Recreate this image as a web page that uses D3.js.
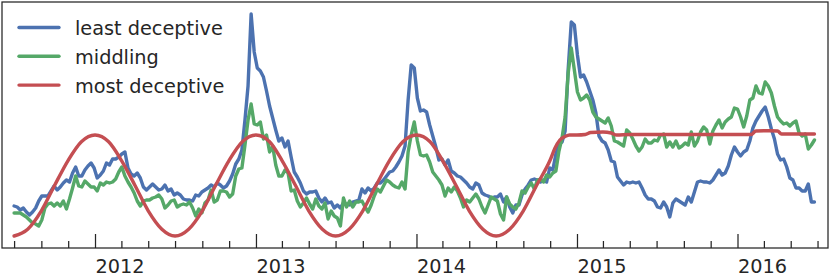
<!DOCTYPE html>
<html>
<head>
<meta charset="utf-8">
<script src="https://cdn.jsdelivr.net/npm/d3@7"></script>
<style>
  html, body { margin: 0; padding: 0; background: #ffffff; }
  svg { display: block; font-family: "DejaVu Sans", sans-serif; }
</style>
</head>
<body>
<svg id="chart" width="830" height="279"></svg>
<script>
// ---------------- DATA ----------------
const seriesNames = ["least deceptive", "middling", "most deceptive"];
const yearLabels = ["2012", "2013", "2014", "2015", "2016"];
const firstWeek = "2011-07-01"; // weekly observations start here

const leastDeceptive = [
  42,41,38,40,36,33,36,40,47,52,
  52,52,57,62,58,61,65,68,66,75,
  81,72,72,78,82,85,80,70,73,77,
  85,83,89,89,91,94,96,80,74,72,
  75,70,61,58,61,64,61,58,59,63,
  57,59,53,55,53,49,48,48,47,53,
  52,56,58,60,63,61,65,63,60,62,
  67,74,84,89,98,128,162,234,196,180,
  177,171,157,142,130,118,107,110,101,107,
  91,76,71,65,57,54,56,56,57,50,
  46,50,45,46,40,43,40,45,44,43,
  46,47,48,59,55,60,57,60,65,65,
  68,72,76,77,81,86,92,102,148,183,
  180,150,137,138,136,123,112,101,88,89,
  83,88,77,75,72,71,68,65,61,59,
  65,63,55,53,52,50,51,51,54,46,
  51,41,35,43,43,53,59,63,68,69,
  68,66,68,66,80,78,94,104,106,117,
  179,226,223,193,171,173,166,157,148,135,
  112,107,105,98,87,86,71,67,63,66,
  65,66,65,66,60,53,49,49,47,41,
  40,46,41,31,45,49,47,45,43,51,
  46,56,66,67,66,66,65,68,73,78,
  73,75,82,93,101,96,92,96,98,107,
  120,127,132,137,141,131,119,109,94,88,
  89,81,70,68,60,60,57,57,64,46,
  46
];

const middling = [
  35,35,35,33,31,28,25,24,22,28,
  40,44,45,42,45,42,47,39,49,60,
  72,62,61,67,64,61,61,57,65,63,
  66,65,66,69,76,81,72,66,61,55,
  47,42,47,48,48,50,51,53,49,40,
  43,47,48,41,43,44,43,46,40,32,
  39,35,45,48,58,46,48,57,57,56,
  51,54,72,79,80,103,128,144,124,123,
  126,109,113,96,102,83,72,72,78,75,
  57,58,47,41,45,50,44,39,49,42,
  39,45,29,37,32,30,22,50,41,47,
  41,46,46,47,41,36,43,52,59,56,
  62,68,66,63,61,60,66,59,96,113,
  126,107,93,92,93,86,76,72,68,63,
  52,60,56,61,57,50,41,48,46,50,
  54,49,41,35,43,51,49,47,34,28,
  51,44,41,39,45,57,55,61,65,59,
  68,69,66,73,71,75,77,97,110,131,
  175,200,178,156,148,150,153,148,136,131,
  129,127,125,130,122,107,106,104,102,118,
  115,109,102,97,101,109,105,105,108,107,
  113,114,101,106,101,107,100,102,105,103,
  116,102,107,116,121,118,104,117,123,128,
  120,126,129,131,140,139,131,121,132,148,
  150,162,155,154,166,162,155,142,131,127,
  124,125,122,125,127,115,112,114,99,103,
  108
];

const mostDates = [
  "2011-07-01","2011-08-01","2011-09-01","2011-10-01","2011-11-01","2011-12-01",
  "2012-01-01","2012-02-01","2012-03-01","2012-04-01","2012-05-01","2012-06-01",
  "2012-07-01","2012-08-01","2012-09-01","2012-10-01","2012-11-01","2012-12-01",
  "2013-01-01","2013-02-01","2013-03-01","2013-04-01","2013-05-01","2013-06-01",
  "2013-07-01","2013-08-01","2013-09-01","2013-10-01","2013-11-01","2013-12-01",
  "2014-01-01","2014-02-01","2014-03-01","2014-04-01","2014-05-01","2014-06-01",
  "2014-07-01","2014-08-01","2014-09-01","2014-10-01","2014-11-01","2014-11-12",
  "2014-11-23","2014-12-05","2014-12-15","2015-01-01","2015-01-20","2015-02-01",
  "2015-03-01","2015-03-20","2015-04-01","2015-05-01","2015-06-01","2015-07-01",
  "2015-08-01","2015-09-01","2015-10-01","2015-11-01","2015-12-01","2016-01-01",
  "2016-02-01","2016-02-12","2016-03-15","2016-04-01","2016-04-10","2016-05-01",
  "2016-06-01","2016-06-24"
];
const mostDeceptive = [
  12,18.8,37.2,62.5,87.7,106.2,
  113,106.2,87.7,62.5,37.2,18.8,
  12,18.8,37.2,62.5,87.7,106.2,
  113,106.2,87.7,62.5,37.2,18.8,
  12,18.8,37.2,62.5,87.7,106.2,
  113,106.2,87.7,62.5,37.2,18.8,
  12,18.8,37.2,62.5,88,100,
  108,111.5,113,113,113.5,115.5,
  116,115,113,113.5,113.5,113.5,
  113.5,113.5,113.5,113.5,113.5,113.5,
  113.5,117,117.3,117,114,114,
  114,114
];

// ---------------- CHART ----------------
const W = 830, H = 279;
const plot = { left: 2, right: 828, top: 2, bottom: 248 };
const colors = ["#4C72B0", "#55A868", "#C44E52"];
const ink = "#262626";
const lw = 3.4;

const parse = d3.timeParse("%Y-%m-%d");
const start = parse(firstWeek);
const weekDates = leastDeceptive.map((_, i) => d3.timeDay.offset(start, 7 * i));

const x = d3.scaleTime()
  .domain([new Date(2011, 5, 3, 12), new Date(2016, 6, 24, 19)])
  .range([plot.left, plot.right]);
const y = d3.scaleLinear().domain([0, 246]).range([plot.bottom, plot.top]);

const svg = d3.select("#chart");
svg.append("rect").attr("width", W).attr("height", H).attr("fill", "#fff");

const clipId = "plotclip";
svg.append("defs").append("clipPath").attr("id", clipId)
  .append("rect").attr("x", plot.left).attr("y", plot.top)
  .attr("width", plot.right - plot.left).attr("height", plot.bottom - plot.top);

const line = d3.line().x(d => x(d[0])).y(d => y(d[1])).curve(d3.curveLinear);
const smooth = d3.line().x(d => x(d[0])).y(d => y(d[1])).curve(d3.curveMonotoneX);

const g = svg.append("g").attr("clip-path", `url(#${clipId})`);
const series = [
  { data: weekDates.map((d, i) => [d, leastDeceptive[i]]), gen: line },
  { data: weekDates.map((d, i) => [d, middling[i]]), gen: line },
  { data: mostDates.map((d, i) => [parse(d), mostDeceptive[i]]), gen: smooth }
];
series.forEach((s, k) => {
  g.append("path")
    .attr("d", s.gen(s.data))
    .attr("fill", "none")
    .attr("stroke", colors[k])
    .attr("stroke-width", lw)
    .attr("stroke-linejoin", "round")
    .attr("stroke-linecap", "round");
});

// Axis: minor ticks (every 2 months), major ticks (years), inward
const majorTicks = yearLabels.map(s => new Date(+s, 0, 1));
const minorTicks = d3.timeMonth.every(2).range(x.domain()[0], x.domain()[1])
  .filter(d => d.getMonth() !== 0);

const minorAxis = d3.axisBottom(x).tickValues(minorTicks).tickSize(-7).tickFormat("");
const majorAxis = d3.axisBottom(x).tickValues(majorTicks).tickSize(-14)
  .tickFormat((d, i) => yearLabels[i]);

const gMinor = svg.append("g").attr("transform", `translate(0,${plot.bottom})`).call(minorAxis);
const gMajor = svg.append("g").attr("transform", `translate(0,${plot.bottom})`).call(majorAxis);
[gMinor, gMajor].forEach(ga => {
  ga.select(".domain").remove();
  ga.selectAll(".tick line").attr("stroke", ink).attr("stroke-width", 1.25);
});
gMajor.selectAll(".tick text")
  .attr("fill", ink)
  .attr("font-size", 19.3)
  .attr("font-family", "DejaVu Sans")
  .attr("text-anchor", "start")
  .attr("x", 0)
  .attr("y", 25)
  .attr("dy", 0);

// Frame
svg.append("rect")
  .attr("x", plot.left).attr("y", plot.top)
  .attr("width", plot.right - plot.left).attr("height", plot.bottom - plot.top)
  .attr("fill", "none").attr("stroke", ink).attr("stroke-width", 1.25);

// Legend
const lg = svg.append("g");
seriesNames.forEach((name, k) => {
  const cy = 27.5 + 28.8 * k;
  lg.append("line").attr("x1", 19).attr("x2", 59).attr("y1", cy).attr("y2", cy)
    .attr("stroke", colors[k]).attr("stroke-width", lw).attr("stroke-linecap", "round");
  lg.append("text").attr("x", 75).attr("y", cy + 7.5)
    .attr("fill", ink).attr("font-size", 19.3).text(name);
});
</script>
</body>
</html>
